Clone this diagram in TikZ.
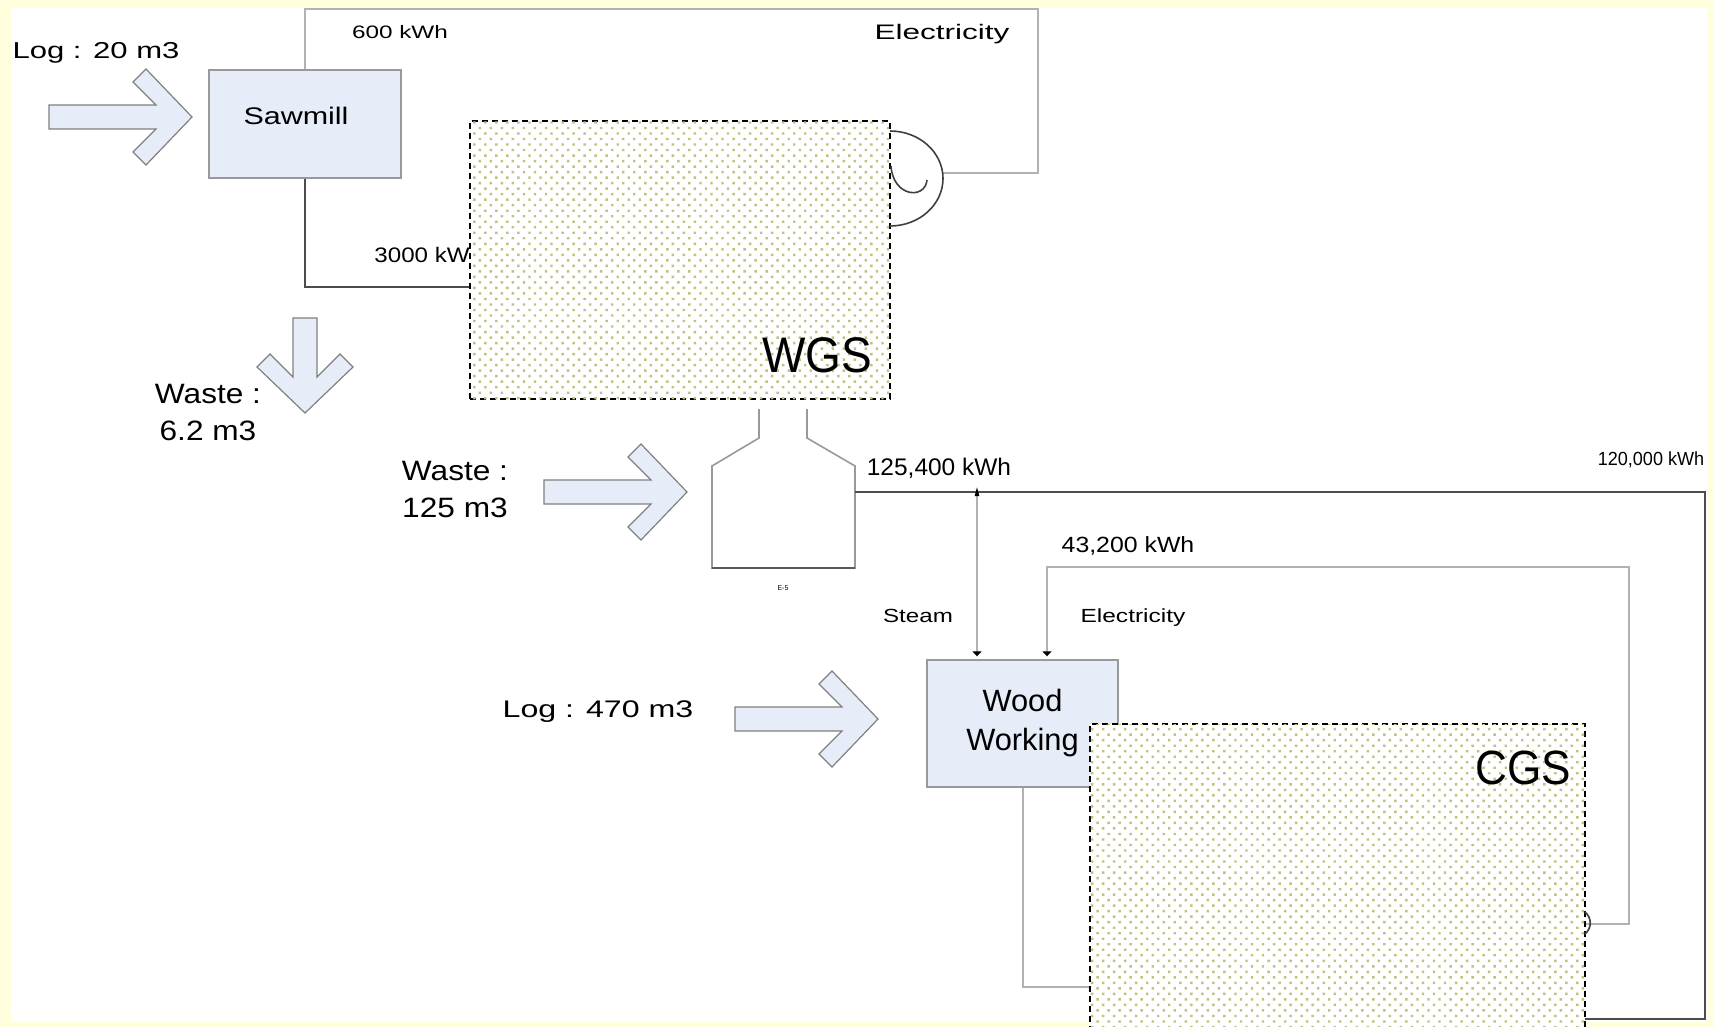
\documentclass[tikz,border=0pt]{standalone}
\usepackage{fontspec}
\setmainfont{Liberation Sans}
\usetikzlibrary{positioning, arrows.meta, patterns.meta}

\definecolor{paper}{RGB}{255,255,222}
\definecolor{unitblue}{RGB}{230,236,248}
\definecolor{dotolive}{RGB}{196,192,128}

\newcommand{\wide}[2]{\scalebox{#1}[1]{#2}}
\newcommand{\fs}[2]{\fontsize{#1}{#2}\selectfont}

\begin{document}
\begin{tikzpicture}[
	x=0.5pt, y=-0.5pt,
	unit/.style={rectangle, draw=black!40, fill=unitblue, line width=0.7pt, inner sep=0pt},
	zone/.style={rectangle, draw=black, line width=0.8pt, dash pattern=on 3pt off 2pt, fill=white,
		postaction={pattern={Dots[distance=3.9pt, angle=45, radius=0.85pt]}, pattern color=dotolive}},
	lbl/.style={inner sep=0pt, anchor=base},
	flow/.style={draw=black!70, line width=1pt},
	feed/.style={draw=black!30, line width=1pt},
	tip/.style={-{Triangle[width=4.5pt, length=2.5pt, color=black]}, shorten >=1.5pt},
	sketch/.style={draw=black!75, line width=0.8pt},
	blockarrow/.pic={
		\filldraw[fill=unitblue, draw=black!50, line width=0.6pt]
			(-#1,-12) -- (-36,-12) -- (-59,-35) -- (-46,-48) -- (0,0)
			-- (-46,48) -- (-59,35) -- (-36,12) -- (-#1,12) -- cycle;
	}
	]

	% Frame
	\fill[paper] (0,0) rectangle (1714,1027);
	\fill[white] (11,8) rectangle (1707,1022);
	\useasboundingbox (0,0) rectangle (1714,1027);

	% Ports
	\coordinate (turbout) at (943,173);
	\coordinate (wgsin) at (470,287);
	\coordinate (boilout) at (855,492);
	\coordinate (steamtap) at (977,492);
	\coordinate (cgsin) at (1585,1019);
	\coordinate (cgsout) at (1585,924);
	\coordinate (cgsfeed) at (1090,987);

	% Units
	\node[unit, minimum width=96pt, minimum height=54pt, font=\fs{12}{14}] (sawmill) at (305,124) {\wide{1.27}{Sawmill}\hspace{9pt}\rule[-8pt]{0pt}{8pt}};
	\node[unit, minimum width=95.5pt, minimum height=63.5pt, align=center, font=\fs{15.4}{19.5}] (ww) at (1022.5,723.5) {Wood\\Working};

	% Labels
	\node[lbl, font=\fs{11.5}{14}] (log20) at (96,59) {\wide{1.35}{Log : 20 m3}};
	\node[lbl, font=\fs{9}{11}] (kwh600) at (400,39) {\wide{1.35}{600 kWh}};
	\node[lbl, font=\fs{10.5}{13}] (elec1) at (942,40) {\wide{1.5}{Electricity}};
	\node[lbl, anchor=base west, font=\fs{10.5}{13}] (kw3000) at (374,263) {\wide{1.15}{3000 kWh}};
	\node[lbl, align=center, font=\fs{14}{18.5}] (waste6) at (208,440) {\wide{1.13}{Waste :}\\\wide{1.13}{6.2 m3}};
	\node[lbl, align=center, font=\fs{14}{18.5}] (waste125) at (455,517) {\wide{1.13}{Waste :}\\\wide{1.13}{125 m3}};
	\node[lbl, font=\fs{12}{14}] (kwh125) at (939,475) {\wide{1.02}{125,400 kWh}};
	\node[lbl, font=\fs{9.5}{11}] (kwh120) at (1651,465) {\wide{0.95}{120,000 kWh}};
	\node[lbl, font=\fs{11}{13}] (kwh43) at (1128,552) {\wide{1.13}{43,200 kWh}};
	\node[lbl, font=\fs{9.5}{11}] (steam) at (918,622) {\wide{1.27}{Steam}};
	\node[lbl, font=\fs{9.5}{11}] (elec2) at (1133,622) {\wide{1.29}{Electricity}};
	\node[lbl, font=\fs{12}{14}] (log470) at (598,717) {\wide{1.34}{Log : 470 m3}};
	\node[lbl, font=\fs{3.5}{4}] (tag) at (783,590) {E-5};

	% Feed arrows
	\pic at (192,117) {blockarrow=143};
	\pic[rotate=-90] at (305,413) {blockarrow=95};
	\pic at (687,492) {blockarrow=143};
	\pic at (878,719) {blockarrow=143};

	% Boiler
	\draw[black!40, line width=0.8pt] (759,409) -- (759,438) -- (712,466) -- (712,568)
		-- (855,568) -- (855,466) -- (807,438) -- (807,409);
	\draw[black!65, line width=1pt] (712,568) -- (855,568);

	% Connectors
	\draw[feed] (turbout) -| (1038,9) -| (sawmill.north);
	\draw[flow] (sawmill.south) |- (wgsin);
	\draw[flow] (boilout) -- (1705,492) |- (cgsin);
	\draw[feed, {Triangle[width=2pt, length=5pt, color=black]}-{Triangle[width=4.5pt, length=2.5pt, color=black]}, shorten <=-3pt, shorten >=1.5pt] (steamtap) -- (steamtap |- ww.north);
	\draw[feed, tip] (cgsout) -| (1629,567) -| ([xshift=12.25pt]ww.north);
	\draw[feed] (ww.south) |- (cgsfeed);

	% Generating systems
	\node[zone, minimum width=210pt, minimum height=139pt] (wgs) at (680,260) {};
	\node[lbl, font=\fs{25}{30}] (wgslbl) at (817,372) {\wide{0.92}{WGS}};
	\draw[sketch] (890,131) arc[start angle=90, end angle=-90, x radius=26.5pt, y radius=23.75pt];
	\draw[sketch] (891,166) .. controls (893,197) and (925,200) .. (927,180);
	\node[zone, minimum width=247.5pt, minimum height=154pt] (cgs) at (1337.5,878) {};
	\node[lbl, font=\fs{24}{29}] (cgslbl) at (1523,784) {\wide{0.92}{CGS}};
	\draw[sketch] (1585,912) .. controls (1592,918) and (1592,928) .. (1585,934);

\end{tikzpicture}
\end{document}
